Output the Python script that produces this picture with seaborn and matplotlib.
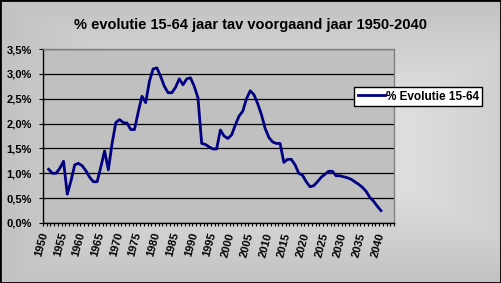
import numpy as np
import matplotlib
matplotlib.use("Agg")
import matplotlib.pyplot as plt
from matplotlib.patches import Rectangle
from matplotlib.ticker import FuncFormatter, MultipleLocator
import seaborn as sns

plt.rcParams['font.family'] = ['Liberation Sans', 'DejaVu Sans']

title = "% evolutie 15-64 jaar tav voorgaand jaar 1950-2040"
series_name = "% Evolutie 15-64"
years = list(range(1951, 2041))
values = [
    1.08, 1.00, 1.00, 1.10, 1.24, 0.58, 0.85, 1.17, 1.20, 1.15,
    1.05, 0.92, 0.83, 0.83, 1.13, 1.45, 1.07, 1.60, 2.02, 2.08,
    2.02, 2.01, 1.88, 1.88, 2.23, 2.55, 2.42, 2.85, 3.10, 3.12,
    2.95, 2.75, 2.62, 2.62, 2.73, 2.90, 2.78, 2.90, 2.92, 2.75,
    2.52, 1.60, 1.58, 1.53, 1.49, 1.49, 1.87, 1.75, 1.70, 1.77,
    1.97, 2.15, 2.25, 2.50, 2.66, 2.58, 2.40, 2.18, 1.90, 1.72,
    1.63, 1.60, 1.60, 1.22, 1.28, 1.28, 1.17, 1.00, 0.96, 0.83,
    0.73, 0.75, 0.83, 0.92, 0.98, 1.04, 1.04, 0.95, 0.95, 0.93,
    0.91, 0.88, 0.83, 0.78, 0.72, 0.64, 0.52, 0.44, 0.34, 0.25,
]
label_years = list(range(1950, 2041, 5))
first_cat, last_cat = 1950, 2043

W, H = 501, 283
fig = plt.figure(figsize=(W / 100, H / 100), dpi=100)

# background gradient (Excel "from center" style)
bg = fig.add_axes([0, 0, 1, 1], zorder=-10)
yy, xx = np.mgrid[0:H, 0:W]
d = np.maximum(np.abs(xx - W * 0.6) / (W * 0.6), np.abs(yy - H * 0.5) / (H * 0.5))
g = 0.93 - 0.17 * d
bg.imshow(np.dstack([g, g, g]), aspect='auto', extent=[0, 1, 0, 1], interpolation='bilinear')
bg.set_axis_off()

ax = fig.add_axes([43 / W, 1 - 223 / H, (394 - 43) / W, (223 - 49) / H], zorder=1)
ax.set_facecolor('#C0C0C0')

sns.lineplot(x=years, y=values, ax=ax, color='#000080', linewidth=2.0, legend=False,
             label=series_name)

ax.set_xlim(first_cat - 0.5, last_cat + 0.5)
ax.set_ylim(0, 3.5)
ax.yaxis.set_major_locator(MultipleLocator(0.5))
ax.yaxis.set_major_formatter(FuncFormatter(lambda v, p: f"{v:.1f}".replace('.', ',') + '%'))
ax.set_xticks(label_years)
ax.set_xticklabels([str(y) for y in label_years], rotation=75, ha='right', va='center',
                   rotation_mode='anchor', fontsize=8, fontweight='bold')
ax.set_xticks(np.arange(first_cat - 0.5, last_cat + 1.0, 1.0), minor=True)
ax.tick_params(axis='x', which='major', length=0, pad=7)
ax.tick_params(axis='x', which='minor', length=2.5, width=0.8, color='black', direction='out')
ax.tick_params(axis='y', which='major', length=3, width=0.8, color='black', direction='out',
               labelsize=8, pad=5)
for lab in ax.get_yticklabels():
    lab.set_fontweight('bold')
ax.yaxis.grid(True, color='black', linewidth=0.9)
ax.set_axisbelow(True)
ax.set_xlabel('')
ax.set_ylabel('')
for s in ['left', 'bottom']:
    ax.spines[s].set_color('black')
    ax.spines[s].set_linewidth(1.0)
for s in ['top', 'right']:
    ax.spines[s].set_color('#808080')
    ax.spines[s].set_linewidth(1.0)

leg = ax.legend(loc='center left', bbox_to_anchor=(354 / W, 1 - 96.5 / H),
                bbox_transform=fig.transFigure, frameon=True, fancybox=False,
                edgecolor='black', facecolor='white', framealpha=1.0,
                prop={'weight': 'bold', 'size': 8.5}, handlelength=2.3,
                handletextpad=0.1, borderpad=0.3, borderaxespad=0)
leg.get_frame().set_linewidth(1.0)
leg.set_zorder(10)

fig.text(250 / W, 1 - 29 / H, title, ha='center', va='baseline', fontsize=10.5,
         fontweight='bold')

fig.add_artist(Rectangle((0, 0), 1, 1, transform=fig.transFigure, fill=False,
                         edgecolor='black', linewidth=2, zorder=20))

fig.savefig('out.png', dpi=100)
